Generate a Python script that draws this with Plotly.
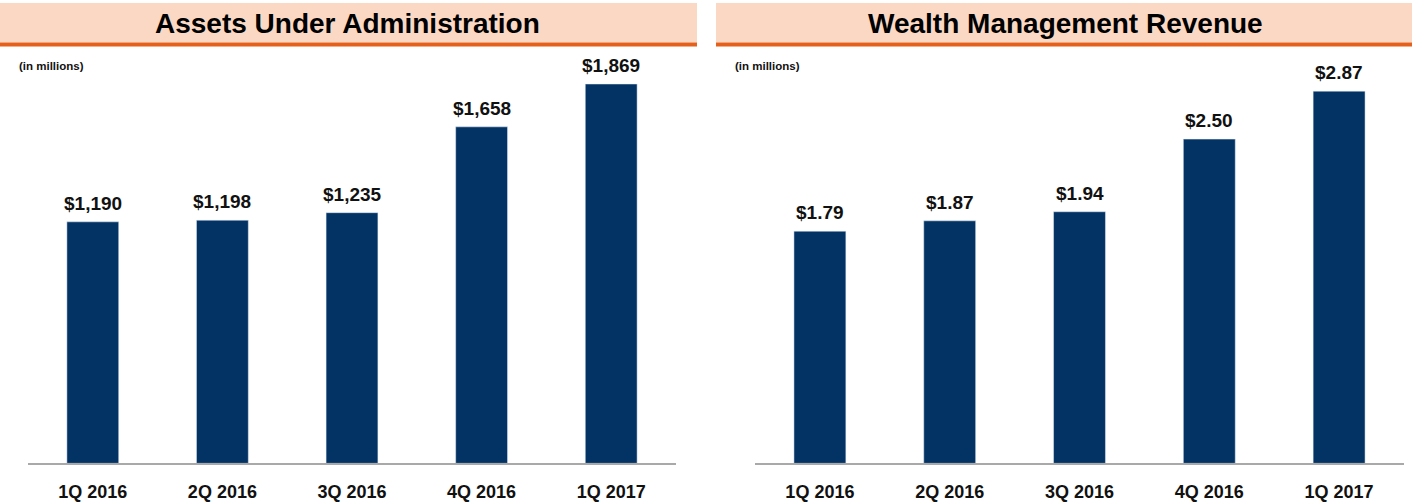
import plotly.graph_objects as go

quarters = ["1Q 2016", "2Q 2016", "3Q 2016", "4Q 2016", "1Q 2017"]
aua_values = [1190, 1198, 1235, 1658, 1869]
aua_labels = ["$1,190", "$1,198", "$1,235", "$1,658", "$1,869"]
wm_values = [1.79, 1.87, 1.94, 2.50, 2.87]
wm_labels = ["$1.79", "$1.87", "$1.94", "$2.50", "$2.87"]

W, H = 1415, 502
FONT = "Liberation Sans, Arial, sans-serif"
BAR = "#033364"
PEACH = "#FBD8C4"
ORANGE = "#E5601A"
AXIS = "#A9A9A9"

def px(x):
    return x / W

def py(y):
    return 1 - y / H

fig = go.Figure()
fig.add_trace(go.Bar(x=quarters, y=aua_values, marker_color=BAR, width=0.40,
                     xaxis="x", yaxis="y", hoverinfo="x+y"))
fig.add_trace(go.Bar(x=quarters, y=wm_values, marker_color=BAR, width=0.40,
                     xaxis="x2", yaxis="y2", hoverinfo="x+y"))

annotations = []
for q, v, t in zip(quarters, aua_values, aua_labels):
    annotations.append(dict(x=q, y=v, xref="x", yref="y", text="<b>%s</b>" % t,
                            showarrow=False, yanchor="bottom", yshift=6,
                            font=dict(family=FONT, size=19, color="#111111")))
for q, v, t in zip(quarters, wm_values, wm_labels):
    annotations.append(dict(x=q, y=v, xref="x2", yref="y2", text="<b>%s</b>" % t,
                            showarrow=False, yanchor="bottom", yshift=6,
                            font=dict(family=FONT, size=19, color="#111111")))

# titles
for cx, title in [(347, "Assets Under Administration"),
                  (1065, "Wealth Management Revenue")]:
    annotations.append(dict(x=px(cx), y=py(24), xref="paper", yref="paper",
                            text="<b>%s</b>" % title, showarrow=False,
                            xanchor="center", yanchor="middle",
                            font=dict(family=FONT, size=28, color="#000000")))
for x0 in [17, 733]:
    annotations.append(dict(x=px(x0), y=py(67), xref="paper", yref="paper",
                            text="<b>(in millions)</b>", showarrow=False,
                            xanchor="left", yanchor="middle",
                            font=dict(family=FONT, size=11.5, color="#111111")))

shapes = []
for x0, x1 in [(0, 697), (716, 1412)]:
    shapes.append(dict(type="rect", xref="paper", yref="paper",
                       x0=px(x0), x1=px(x1), y0=py(43), y1=py(3),
                       fillcolor=PEACH, line=dict(width=0), layer="below"))
    shapes.append(dict(type="rect", xref="paper", yref="paper",
                       x0=px(x0), x1=px(x1), y0=py(47), y1=py(43),
                       fillcolor=ORANGE, line=dict(width=0), layer="below"))

xcommon = dict(showline=True, linecolor=AXIS, linewidth=2, showgrid=False,
               ticks="", ticklabelstandoff=11, zeroline=False,
               tickfont=dict(family=FONT, size=18, color="#111111"),
               tickprefix="<b>", ticksuffix="</b>", fixedrange=True)
ycommon = dict(visible=False, showgrid=False, zeroline=False, fixedrange=True)

fig.update_layout(
    width=W, height=H,
    margin=dict(l=0, r=0, t=0, b=0),
    paper_bgcolor="white", plot_bgcolor="white",
    showlegend=False,
    xaxis=dict(domain=[px(28), px(676)], anchor="y", **xcommon),
    xaxis2=dict(domain=[px(755), px(1404)], anchor="y2", **xcommon),
    yaxis=dict(domain=[py(468), py(58)], range=[0, 2000], anchor="x", **ycommon),
    yaxis2=dict(domain=[py(468), py(58)], range=[0, 3.13], anchor="x2", **ycommon),
    annotations=annotations,
    shapes=shapes,
)

fig.write_html("out.html", config={"displayModeBar": False},
               post_script="document.body.style.margin='0';")
